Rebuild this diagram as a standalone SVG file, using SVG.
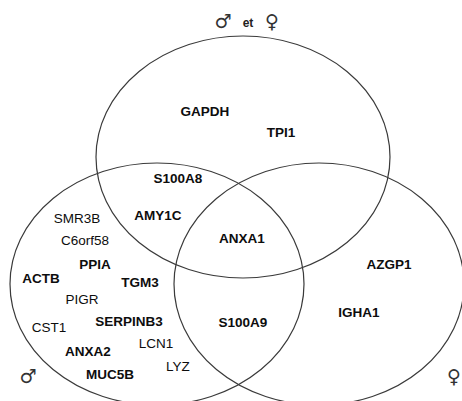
<svg xmlns="http://www.w3.org/2000/svg" width="462" height="401" viewBox="0 0 462 401">
<style>
.set{fill:none;stroke:#3a3a3a;stroke-width:1.2}
.g{font-family:"Liberation Sans",Arial,sans-serif;font-size:13.5px;fill:#0d0d0d;text-anchor:middle}
.b{font-weight:bold}
.sym{font-family:"DejaVu Sans",sans-serif;font-size:19px;fill:#333;text-anchor:middle}
.et{font-family:"Liberation Sans",Arial,sans-serif;font-size:12px;font-weight:bold;fill:#222;text-anchor:middle}
</style>
<rect width="462" height="401" fill="#fff"/>
<g id="sets">
<ellipse id="set-both" class="set" cx="243" cy="157" rx="147" ry="121"/>
<ellipse id="set-male" class="set" cx="157" cy="284" rx="147" ry="121"/>
<ellipse id="set-female" class="set" cx="319" cy="284" rx="145" ry="121"/>
</g>
<g id="titles">
<text class="sym" x="223" y="28">♂</text>
<text class="et" x="248" y="27">et</text>
<text class="sym" x="272" y="28">♀</text>
<text class="sym" x="28" y="383">♂</text>
<text class="sym" x="454" y="383">♀</text>
</g>
<g id="genes">
<text class="g b" x="205" y="116">GAPDH</text>
<text class="g b" x="281" y="137">TPI1</text>
<text class="g b" x="178" y="183">S100A8</text>
<text class="g" x="77" y="223">SMR3B</text>
<text class="g b" x="158" y="220">AMY1C</text>
<text class="g" x="85" y="245">C6orf58</text>
<text class="g b" x="95" y="269">PPIA</text>
<text class="g b" x="41" y="283">ACTB</text>
<text class="g b" x="140" y="287">TGM3</text>
<text class="g" x="82" y="304">PIGR</text>
<text class="g b" x="129" y="326">SERPINB3</text>
<text class="g" x="49" y="332">CST1</text>
<text class="g" x="156" y="348">LCN1</text>
<text class="g b" x="88" y="356">ANXA2</text>
<text class="g" x="178" y="371">LYZ</text>
<text class="g b" x="110" y="379">MUC5B</text>
<text class="g b" x="242" y="243">ANXA1</text>
<text class="g b" x="389" y="269">AZGP1</text>
<text class="g b" x="359" y="317">IGHA1</text>
<text class="g b" x="243" y="327">S100A9</text>
</g>
</svg>
